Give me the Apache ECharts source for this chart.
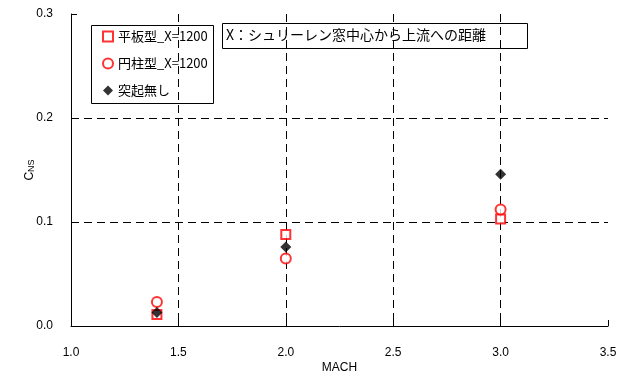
<!DOCTYPE html>
<html>
<head>
<meta charset="utf-8">
<script src="https://cdn.jsdelivr.net/npm/echarts@6/dist/echarts.min.js"></script>
<style>
  html, body { margin: 0; padding: 0; background: #fff; }
  #chart { width: 624px; height: 376px; }
</style>
</head>
<body>
<div id="chart"></div>
<script>
// Normal-force coefficient vs Mach number
const seriesNames = ['平板型_X=1200', '円柱型_X=1200', '突起無し'];
const machPlate = [1.4, 2.0, 3.0];
const cnsPlate = [0.011, 0.088, 0.103];
const machCylinder = [1.4, 2.0, 3.0];
const cnsCylinder = [0.023, 0.065, 0.112];
const machNone = [1.4, 2.0, 3.0];
const cnsNone = [0.013, 0.076, 0.146];
const noteText = 'X：シュリーレン窓中心から上流への距離';

const pairs = (xs, ys) => xs.map((x, i) => [x, ys[i]]);

const JP = '"Noto Sans CJK JP", "Liberation Sans", sans-serif';
const LAT = '"Liberation Sans", Arial, sans-serif';

const grid = { left: 71, right: 16, top: 14, bottom: 50,
  containLabel: false, outerBoundsMode: 'none' };

const chart = echarts.init(document.getElementById('chart'), null, { renderer: 'canvas' });

const dashed = { show: true, showMinLine: false, showMaxLine: false,
  lineStyle: { color: '#000', width: 1, type: [8, 5] } };

chart.setOption({
  animation: false,
  backgroundColor: '#fff',
  grid: grid,
  xAxis: {
    type: 'value', min: 1.0, max: 3.5, interval: 0.5,
    name: 'MACH', nameLocation: 'middle', nameGap: 36, nameMoveOverlap: false,
    nameTextStyle: { fontFamily: LAT, fontSize: 12, color: '#000' },
    axisLine: { lineStyle: { color: '#000', width: 1 } },
    axisTick: { inside: true, length: 6, lineStyle: { color: '#000' } },
    axisLabel: { fontFamily: LAT, fontSize: 12, color: '#000', margin: 21,
      formatter: v => v.toFixed(1) },
    splitLine: dashed
  },
  yAxis: {
    type: 'value', min: 0, max: 0.3, interval: 0.1,
    name: '{c|C}{s|NS}', nameLocation: 'middle', nameGap: 35, nameRotate: 90,
    nameMoveOverlap: false,
    nameTextStyle: {
      rich: {
        c: { fontFamily: LAT, fontSize: 12, color: '#000' },
        s: { fontFamily: LAT, fontSize: 9, color: '#000', padding: [4, 0, 0, 0] }
      }
    },
    axisLine: { show: true, lineStyle: { color: '#000', width: 1 } },
    axisTick: { show: true, inside: true, length: 6, lineStyle: { color: '#000' } },
    axisLabel: { fontFamily: LAT, fontSize: 12, color: '#000', margin: 18,
      formatter: v => v.toFixed(1) },
    splitLine: dashed
  },
  legend: {
    orient: 'vertical', left: 97, top: 25,
    itemWidth: 10, itemHeight: 10, itemGap: 14,
    textStyle: { fontFamily: JP, fontSize: 13, color: '#000' },
    data: seriesNames
  },
  graphic: [
    { type: 'rect', left: 91, top: 25, z: 0,
      shape: { width: 122, height: 78 },
      style: { fill: '#fff', stroke: '#000', lineWidth: 1 } },
    { type: 'rect', left: 222, top: 23, z: 0,
      shape: { width: 305, height: 25 },
      style: { fill: '#fff', stroke: '#000', lineWidth: 1 } },
    { type: 'text', left: 226, top: 28, z: 1,
      style: { text: noteText, font: '14px ' + JP, fill: '#000' } }
  ],
  series: [
    { name: seriesNames[0], type: 'scatter', symbol: 'emptyRect', symbolSize: 9,
      itemStyle: { color: '#ff0000', borderWidth: 1 }, z: 3,
      data: pairs(machPlate, cnsPlate) },
    { name: seriesNames[1], type: 'scatter', symbol: 'emptyCircle', symbolSize: 10,
      itemStyle: { color: '#ff0000', borderWidth: 1 }, z: 3,
      data: pairs(machCylinder, cnsCylinder) },
    { name: seriesNames[2], type: 'scatter', symbol: 'diamond', symbolSize: 11,
      itemStyle: { color: '#000' }, z: 4,
      data: pairs(machNone, cnsNone) }
  ]
});
</script>
</body>
</html>
